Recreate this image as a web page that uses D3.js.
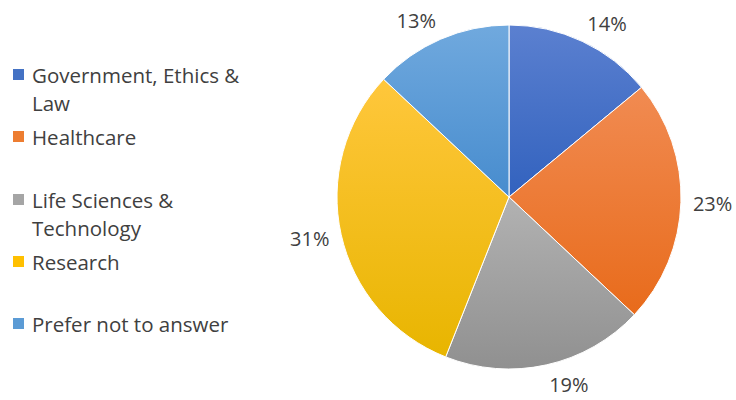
<!DOCTYPE html>
<html><head><meta charset="utf-8">
<script src="https://cdn.jsdelivr.net/npm/d3@7"></script>
<style>body{margin:0;background:#fff}svg{display:block}text{font-family:"Open Sans",Lato,sans-serif;fill:#404040}</style>
</head><body>
<svg id="c" width="736" height="400"></svg>
<script>
const categories = ["Government, Ethics & Law","Healthcare","Life Sciences & Technology","Research","Prefer not to answer"];
const legendLines = [["Government, Ethics &","Law"],["Healthcare"],["Life Sciences &","Technology"],["Research"],["Prefer not to answer"]];
const values = [14,23,19,31,13];
const colorsTop = ["#5b80d0","#f18b52","#b2b2b2","#ffc73c","#70a9de"];
const colorsBottom = ["#3262be","#e86b1b","#909090","#e8b500","#478cce"];
const swatch = ["#4472c4","#ed7d31","#a5a5a5","#ffc000","#5b9bd5"];

const svg = d3.select("#c");
const cx = 509, cy = 197, R = 172, gap = 12;
const defs = svg.append("defs");
values.forEach((v,i)=>{
  const g = defs.append("linearGradient").attr("id","g"+i).attr("x1",0).attr("y1",0).attr("x2",0).attr("y2",1);
  g.append("stop").attr("offset","0%").attr("stop-color",colorsTop[i]);
  g.append("stop").attr("offset","100%").attr("stop-color",colorsBottom[i]);
});
const pie = d3.pie().sort(null).value(d=>d);
const arcs = pie(values);
const arc = d3.arc().innerRadius(0).outerRadius(R);
const gp = svg.append("g").attr("transform",`translate(${cx},${cy})`);
gp.selectAll("path").data(arcs).join("path")
  .attr("d",arc).attr("fill",(d,i)=>`url(#g${i})`)
  .attr("stroke","#fff").attr("stroke-width",1);
gp.selectAll("text.lbl").data(arcs).join("text").attr("class","lbl")
  .attr("text-anchor","middle").attr("dominant-baseline","central")
  .attr("font-size",20).text(d=>d.data+"%")
  .attr("transform",function(d){
    const a=(d.startAngle+d.endAngle)/2, s=Math.sin(a), c=Math.cos(a);
    const w=this.getComputedTextLength(), h=16;
    const x=(R+gap)*s + Math.sign(s)*w/2, y=-(R+gap)*c - c*h/2;
    return `translate(${x},${y})`;
  });

const legY = [75,137,200,262,324];
const lg = svg.append("g");
legendLines.forEach((lines,i)=>{
  lg.append("rect").attr("x",13).attr("y",legY[i]-6).attr("width",11).attr("height",11).attr("fill",swatch[i]);
  lines.forEach((t,j)=>{
    lg.append("text").attr("x",32).attr("y",legY[i]+j*28).attr("dominant-baseline","central")
      .attr("font-size",20.5).text(t);
  });
});
</script>
</body></html>
